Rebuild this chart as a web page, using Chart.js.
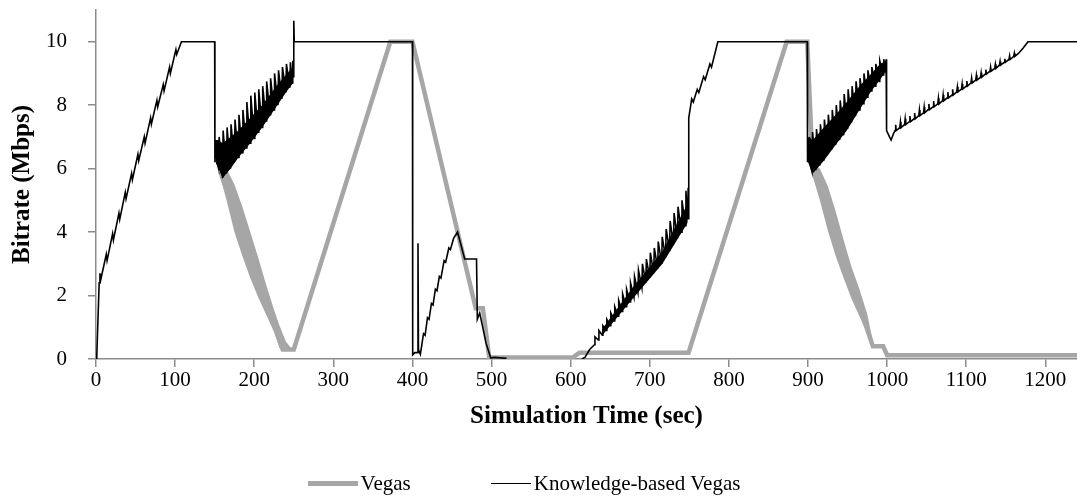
<!DOCTYPE html>
<html>
<head>
<meta charset="utf-8">
<script src="https://cdn.jsdelivr.net/npm/chart.js@4.4.0/dist/chart.umd.min.js"></script>
<style>
  html, body { margin: 0; padding: 0; background: #fff; }
  #wrap { position: relative; width: 1077px; height: 497px; }
  #legend {
    position: absolute; left: 0; top: 471px; width: 1048px;
    display: flex; justify-content: center; align-items: center;
    font-family: 'Liberation Serif', 'Times New Roman', serif; font-size: 21px; color: #000;
  }
  #legend .item { display: flex; align-items: center; margin: 0 40px; }
  #legend .swatch { display: inline-block; margin-right: 3px; }
</style>
</head>
<body>
<div id="wrap">
  <canvas id="chart" width="1077" height="497"></canvas>
  <div id="legend"></div>
</div>
<script>
// time (sec) / bitrate (Mbps)
const xTicks = [0, 100, 200, 300, 400, 500, 600, 700, 800, 900, 1000, 1100, 1200];
const yTicks = [0, 2, 4, 6, 8, 10];

// Vegas
const vegasLine = [[157,5.9],[236,0.3],[250,0.3],[372,10],[400,10],[480,1.6],[489,1.6],[497,0.05],
  [603,0.05],[611,0.2],[749,0.2],[873,10],[899,10],[906,6.0],[982,0.4],[995,0.4],[1000,0.12],[1240,0.12]];
// oscillation band of Vegas while it backs off (time, lower edge, upper edge)
const vegasBand1T  = [157, 165, 175, 185, 195, 205, 215, 225, 232, 240, 248];
const vegasBand1Lo = [5.75, 5.0, 4.0, 3.25, 2.55, 1.95, 1.4, 0.85, 0.35, 0.3, 0.3];
const vegasBand1Hi = [6.1, 6.0, 5.5, 4.8, 4.0, 3.2, 2.35, 1.55, 1.05, 0.55, 0.3];
const vegasBand2T  = [906, 915, 925, 935, 945, 955, 965, 975, 982];
const vegasBand2Lo = [5.75, 5.0, 4.05, 3.25, 2.55, 1.9, 1.35, 0.8, 0.35];
const vegasBand2Hi = [6.2, 6.0, 5.45, 4.65, 3.75, 2.9, 2.2, 1.4, 0.55];

// Knowledge-based Vegas
const kbRamp = [[0,0],[1,0.1],[4,2.4],[5,2.7],[6,2.5],[13,3.3],[14,3.1],[21,3.95],[22,3.75],[29,4.6],[30,4.4],
  [37,5.25],[38,5.05],[45,5.85],[46,5.65],[53,6.45],[54,6.25],[61,7.0],[62,6.8],[69,7.6],[70,7.4],[77,8.15],
  [78,7.95],[85,8.65],[86,8.45],[93,9.2],[94,9.0],[101,9.75],[102,9.6],[108,10],[150,10]];
const kbSaw1 = [[150.3,6.2],[152,6.9],[153,6.2],
  [155,6.0],[155.7,7.0],[160,5.7],[160.7,7.2],[165,5.85],[165.7,7.3],[170,6.0],[170.7,7.4],[175,6.2],[175.7,7.55],
  [180,6.35],[180.7,7.7],[185,6.5],[185.7,7.85],[190,6.65],[190.7,8.1],[195,6.8],[195.7,8.3],[200,6.95],[200.7,8.4],
  [205,7.15],[205.7,8.5],[210,7.3],[210.7,8.6],[215,7.5],[215.7,8.75],[220,7.7],[220.7,8.85],[225,7.85],[225.7,9.0],
  [230,8.0],[230.7,9.1],[235,8.2],[235.7,9.2],[240,8.4],[240.7,9.3],[245,8.55],[245.7,9.35],[248,8.7],[248.7,9.4],
  [249.5,8.9],[250,10.66],[250.6,10],[400,10]];
const kbDrop = [[400.3,0.13],[403,0.2],[406.5,0.2],[407,3.65],[407.6,0.3],[410,0.15],[414,0.8],[416,0.75],
  [419,1.3],[421,1.25],[424,1.75],[426,1.7],[429,2.2],[431,2.15],[434,2.6],[436,2.55],[440,3.1],[442,3.05],
  [446,3.5],[448,3.45],[452,3.8],[457,4.0],[466,3.15],[481,3.15],[482,1.25],[485,1.45],[488,1.1],[493,0.5],
  [499,0.03],[503,0.05],[519,0.02]];
const kbSaw2 = [[614,0],[618,0.05],[624,0.3],
  [630,0.45],[630.7,0.7],[635,0.6],[635.7,0.9],[640,0.75],[640.7,1.05],[645,0.9],[645.7,1.25],[650,1.05],[650.7,1.45],
  [655,1.2],[655.7,1.65],[660,1.35],[660.7,1.85],[665,1.5],[665.7,2.05],[670,1.65],[670.7,2.2],[675,1.8],[675.7,2.4],
  [680,1.95],[680.7,2.6],[685,2.1],[685.7,2.8],[690,2.25],[690.7,3.0],[695,2.4],[695.7,3.15],[700,2.55],[700.7,3.35],
  [705,2.7],[705.7,3.5],[710,2.85],[710.7,3.7],[715,3.0],[715.7,3.85],[720,3.2],[720.7,4.1],[725,3.4],[725.7,4.35],
  [730,3.6],[730.7,4.6],[735,3.8],[735.7,4.8],[740,4.0],[740.7,5.0],[745,4.2],[745.7,5.3],[748,4.4],[748.5,5.4],
  [749,4.4],[749.5,7.6],[753,8.2],[755,8.1],[760,8.5],[762,8.4],[768,8.9],[770,8.8],[776,9.3],[778,9.2],[786,10],[899,10]];
const kbSaw3 = [[899.4,6.2],[902,7.0],[903,6.1],
  [905,5.9],[905.7,7.15],[910,5.95],[910.7,7.25],[915,6.1],[915.7,7.4],[920,6.25],[920.7,7.55],[925,6.45],[925.7,7.7],
  [930,6.6],[930.7,7.85],[935,6.75],[935.7,8.0],[940,6.9],[940.7,8.15],[945,7.05],[945.7,8.35],[950,7.25],[950.7,8.5],
  [955,7.45],[955.7,8.6],[960,7.65],[960.7,8.75],[965,7.85],[965.7,8.85],[970,8.05],[970.7,9.0],[975,8.25],[975.7,9.1],
  [980,8.45],[980.7,9.2],[985,8.6],[985.7,9.3],[990,8.75],[990.7,9.4],[995,8.95],[995.7,9.45],[998,9.1],[998.7,9.45],
  [999.3,7.2],[1003,7.0],[1005,6.9],[1008,7.1]];
const kbTail = [[1010,7.2],[1010.8,7.38],[1011.5,7.2],[1016,7.29],[1016.8,7.47],[1017.5,7.29],[1022,7.39],[1022.8,7.57],
  [1023.5,7.39],[1028,7.48],[1028.8,7.66],[1029.5,7.48],[1034,7.57],[1034.8,7.75],[1035.5,7.57],[1040,7.67],[1040.8,7.85],
  [1041.5,7.67],[1046,7.76],[1046.8,7.94],[1047.5,7.76],[1052,7.86],[1052.8,8.04],[1053.5,7.86],[1058,7.95],[1058.8,8.13],
  [1059.5,7.95],[1064,8.04],[1064.8,8.22],[1065.5,8.04],[1070,8.14],[1070.8,8.32],[1071.5,8.14],[1076,8.23],[1076.8,8.41],
  [1077.5,8.23],[1082,8.32],[1082.8,8.5],[1083.5,8.32],[1088,8.42],[1088.8,8.58],[1089.5,8.42],[1094,8.51],[1094.8,8.67],
  [1095.5,8.51],[1100,8.6],[1100.8,8.76],[1101.5,8.6],[1106,8.7],[1106.8,8.85],[1107.5,8.7],[1112,8.79],[1112.8,8.94],
  [1113.5,8.79],[1118,8.88],[1118.8,9.02],[1119.5,8.88],[1124,8.98],[1124.8,9.12],[1125.5,8.98],[1130,9.07],[1130.8,9.2],
  [1131.5,9.07],[1136,9.16],[1136.8,9.29],[1137.5,9.16],[1142,9.26],[1142.8,9.38],[1143.5,9.26],[1148,9.35],[1148.8,9.46],
  [1149.5,9.35],[1154,9.44],[1154.8,9.55],[1155.5,9.44],[1160,9.54],[1160.8,9.64],[1161.5,9.54],[1166,9.63],[1172,9.8],
  [1178,10],[1240,10]];
// dense lower part of the saw-tooth bursts (time, lower edge, upper edge)
const kbBand1T  = [151, 155, 160, 170, 180, 195, 210, 228, 240, 249];
const kbBand1Lo = [6.2, 6.0, 5.7, 6.0, 6.35, 6.8, 7.3, 7.95, 8.4, 8.7];
const kbBand1Hi = [6.9, 6.9, 6.8, 7.0, 7.2, 7.6, 8.0, 8.6, 8.95, 9.2];
const kbBand2T  = [640, 680, 716, 748];
const kbBand2Lo = [0.75, 1.95, 3.0, 4.3];
const kbBand2Hi = [0.95, 2.3, 3.4, 4.9];
const kbBand3T  = [900, 906, 920, 935, 949, 965, 980, 991, 999];
const kbBand3Lo = [6.2, 5.85, 6.25, 6.75, 7.2, 7.85, 8.45, 8.8, 9.1];
const kbBand3Hi = [7.0, 6.9, 7.3, 7.7, 8.1, 8.6, 9.0, 9.3, 9.4];

const GREY = '#a6a6a6';
const FONT = "'Liberation Serif', 'Times New Roman', serif";

const fromPairs = arr => arr.map(([x, y]) => ({ x, y }));
const fromCols = (t, v) => t.map((x, i) => ({ x, y: v[i] }));

// black is not drawn while it sits on the axis (519..614 s)
const kbPoints = [
  ...fromPairs(kbRamp), ...fromPairs(kbSaw1), ...fromPairs(kbDrop),
  { x: 560, y: null },
  ...fromPairs(kbSaw2), ...fromPairs(kbSaw3), ...fromPairs(kbTail)
];

const datasets = [];
const addBand = (t, lo, hi, color, order) => {
  datasets.push({ data: fromCols(t, lo), borderWidth: 0, pointRadius: 0, fill: false, order });
  datasets.push({ data: fromCols(t, hi), borderWidth: 0, pointRadius: 0, backgroundColor: color,
    fill: datasets.length - 1, order });
};

datasets.push({
  label: 'Knowledge-based Vegas', data: kbPoints, borderColor: '#000', backgroundColor: '#000',
  borderWidth: 1.6, pointRadius: 0, tension: 0, spanGaps: false, order: 0, legendLen: 40
});
addBand(kbBand1T, kbBand1Lo, kbBand1Hi, '#000', 1);
addBand(kbBand2T, kbBand2Lo, kbBand2Hi, '#000', 1);
addBand(kbBand3T, kbBand3Lo, kbBand3Hi, '#000', 1);
datasets.push({
  label: 'Vegas', data: fromPairs(vegasLine), borderColor: GREY, backgroundColor: GREY,
  borderWidth: 4.5, pointRadius: 0, tension: 0, order: 2, legendLen: 50
});
addBand(vegasBand1T, vegasBand1Lo, vegasBand1Hi, GREY, 3);
addBand(vegasBand2T, vegasBand2Lo, vegasBand2Hi, GREY, 3);

const axisColor = '#8c8c8c';
const noPad = s => { s.paddingTop = 0; s.paddingBottom = 0; s.paddingLeft = 0; s.paddingRight = 0; };

new Chart(document.getElementById('chart'), {
  type: 'line',
  data: { datasets },
  options: {
    responsive: false,
    animation: false,
    events: [],
    layout: { padding: { top: 10, right: 0, bottom: 65, left: 0 } },
    plugins: { legend: { display: false }, tooltip: { enabled: false } },
    scales: {
      x: {
        type: 'linear', min: 0, max: 1240,
        afterBuildTicks: s => { s.ticks = xTicks.map(v => ({ value: v })); },
        afterFit: s => { s.height = 73; noPad(s); },
        border: { color: axisColor, width: 1.5 },
        grid: { drawOnChartArea: false, tickLength: 8, color: axisColor, lineWidth: 1.5 },
        ticks: { color: '#000', font: { family: FONT, size: 21 }, padding: 1, maxRotation: 0, autoSkip: false,
          callback: v => String(v) },
        title: { display: true, text: 'Simulation Time (sec)', color: '#000',
          font: { family: FONT, size: 25, weight: 'bold' }, padding: { top: 0, bottom: 0 } }
      },
      y: {
        min: 0, max: 11,
        afterBuildTicks: s => { s.ticks = yTicks.map(v => ({ value: v })); },
        afterFit: s => { s.width = 96; noPad(s); },
        border: { color: axisColor, width: 1.5 },
        grid: { drawOnChartArea: false, tickLength: 8, color: axisColor, lineWidth: 1.5 },
        ticks: { color: '#000', font: { family: FONT, size: 21 }, padding: 21, callback: v => String(v) },
        title: { display: true, text: 'Bitrate (Mbps)', color: '#000',
          font: { family: FONT, size: 25, weight: 'bold' }, padding: { top: 8, bottom: 0 } }
      }
    }
  }
});

// legend in the order of the figure
const legendEl = document.getElementById('legend');
['Vegas', 'Knowledge-based Vegas'].forEach(name => {
  const ds = datasets.find(d => d.label === name);
  const item = document.createElement('span');
  item.className = 'item';
  const sw = document.createElement('span');
  sw.className = 'swatch';
  sw.style.width = ds.legendLen + 'px';
  sw.style.height = ds.borderWidth + 'px';
  sw.style.background = ds.borderColor;
  item.appendChild(sw);
  item.appendChild(document.createTextNode(name));
  legendEl.appendChild(item);
});
</script>
</body>
</html>
